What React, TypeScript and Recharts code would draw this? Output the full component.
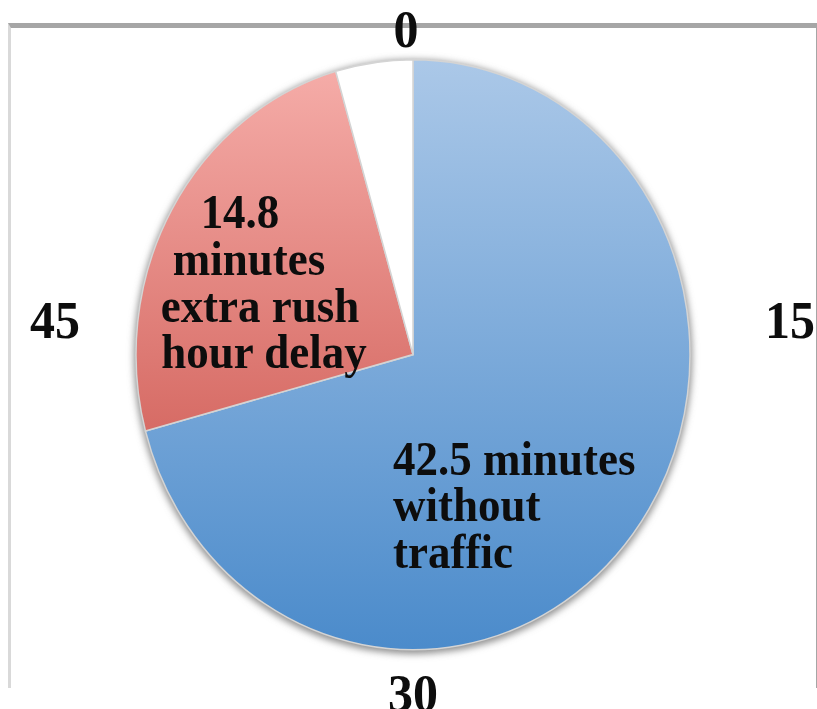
import { PieChart, Pie, Cell } from 'recharts';

// minutes of a one hour commute "clock"
const slices = ['without traffic', 'extra rush hour delay', 'rest of the hour'];
const minutes = [42.5, 14.8, 2.7];
const sliceLabelLines = [
    ['42.5 minutes', 'without', 'traffic'],
    ['14.8', 'minutes', 'extra rush', 'hour delay'],
    [],
];
const clockTicks = ['0', '15', '30', '45'];
const tickSpan = [15, 15, 15, 15];

const SCALE_Y = 1.065;
const CX = 413;
const CY = 333;
const R = 277;
const FONT = '"Liberation Serif", "Times New Roman", serif';

const data = slices.map((name, i) => ({ name, value: minutes[i] }));
const total = minutes.reduce((a, b) => a + b, 0);
const ticks = clockTicks.map((name, i) => ({ name, value: tickSpan[i] }));

const FILLS = ['url(#blueGrad)', 'url(#redGrad)', '#ffffff'];

// where the text sits inside each slice (relative to the centre)
const SLICE_TEXT = [
    { dx: [-20, -20, -20], dy: 113, anchor: 'start', lh: 43.5 },
    { dx: [-173, -164, -153, -149], dy: -119, anchor: 'middle', lh: 44 },
    { dx: [], dy: 0, anchor: 'middle', lh: 0 },
];

// clock numbers: distance along the angle, plus a small lift for the side ones
const TICK_RX = 371;
const TICK_RY = 312;
const TICK_SHIFT = [
    { dx: -7, dy: 6 },
    { dx: 6, dy: -33 },
    { dx: 0, dy: 6 },
    { dx: 13, dy: -33 },
];

const renderSliceLabel = (props: any) => {
    const { cx, cy, index } = props;
    const lines = sliceLabelLines[index];
    const pos = SLICE_TEXT[index];
    if (!lines || !lines.length) return null;
    return (
        <g key={`sl-${index}`}>
            {lines.map((line, k) => (
                <text
                    key={k}
                    x={cx + pos.dx[k]}
                    y={cy + pos.dy + k * pos.lh}
                    textAnchor={pos.anchor as any}
                    fontFamily={FONT}
                    fontWeight="bold"
                    fontSize={45}
                    fill="#0d0d0d"
                >
                    {line}
                </text>
            ))}
        </g>
    );
};

const renderClockTick = (props: any) => {
    const { cx, cy, midAngle, index } = props;
    const rad = (midAngle * Math.PI) / 180;
    const x = cx + TICK_RX * Math.cos(rad) + TICK_SHIFT[index].dx;
    const y = cy - TICK_RY * Math.sin(rad) + TICK_SHIFT[index].dy;
    return (
        <text
            key={`ct-${index}`}
            x={x}
            y={y}
            textAnchor="middle"
            dominantBaseline="central"
            fontFamily={FONT}
            fontWeight="bold"
            fontSize={50}
            fill="#0d0d0d"
        >
            {clockTicks[index]}
        </text>
    );
};

function App() {
    return (
        <div style={{ position: 'absolute', left: 0, top: 0, width: 817, height: 709, overflow: 'hidden', background: '#fff' }}>
            {/* frame of the original slide */}
            <div
                style={{
                    position: 'absolute',
                    left: 8,
                    top: 23,
                    width: 817 - 8 - 4,
                    height: 665 - 5,
                    borderTop: '5px solid #a6a6a6',
                    borderLeft: '3px solid #d9d9d9',
                    borderRight: '2px solid #a6a6a6',
                }}
            />
            <div style={{ position: 'absolute', left: 0, top: 0, transform: `scaleY(${SCALE_Y})`, transformOrigin: '0 0' }}>
                <PieChart width={817} height={670} margin={{ top: 0, right: 0, bottom: 0, left: 0 }}>
                    <defs>
                        <linearGradient id="blueGrad" gradientUnits="userSpaceOnUse" x1="0" y1={CY - R} x2="0" y2={CY + R}>
                            <stop offset="0%" stopColor="#abc8e8" />
                            <stop offset="100%" stopColor="#4b8bcb" />
                        </linearGradient>
                        <linearGradient id="redGrad" gradientUnits="userSpaceOnUse" x1="0" y1={CY - R} x2="0" y2={CY + R}>
                            <stop offset="0%" stopColor="#f6aeaa" />
                            <stop offset="100%" stopColor="#c4443c" />
                        </linearGradient>
                        <filter id="pieShadow" x="-10%" y="-10%" width="120%" height="120%">
                            <feGaussianBlur stdDeviation="3.5" />
                        </filter>
                    </defs>
                    {/* soft shadow round the whole clock */}
                    <Pie
                        data={[{ name: 'all', value: total }]}
                        dataKey="value"
                        cx={CX}
                        cy={CY + 2}
                        outerRadius={R + 2}
                        startAngle={90}
                        endAngle={-270}
                        stroke="none"
                        fill="#8f8f8f"
                        style={{ filter: 'url(#pieShadow)' }}
                        isAnimationActive={false}
                    />
                    <Pie
                        data={data}
                        dataKey="value"
                        cx={CX}
                        cy={CY}
                        outerRadius={R}
                        startAngle={90}
                        endAngle={-270}
                        stroke="#d4d4d4"
                        strokeWidth={1.5}
                        labelLine={false}
                        label={renderSliceLabel}
                        isAnimationActive={false}
                    >
                        {data.map((_d, i) => (
                            <Cell key={`cell-${i}`} fill={FILLS[i]} />
                        ))}
                    </Pie>
                    {/* invisible quarters, only there to place the clock numbers */}
                    <Pie
                        data={ticks}
                        dataKey="value"
                        cx={CX}
                        cy={CY}
                        outerRadius={R}
                        startAngle={135}
                        endAngle={-225}
                        fill="none"
                        stroke="none"
                        labelLine={false}
                        label={renderClockTick}
                        isAnimationActive={false}
                    />
                </PieChart>
            </div>
        </div>
    );
}

export default App;
